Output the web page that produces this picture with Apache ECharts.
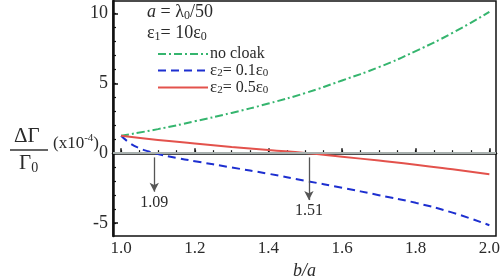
<!DOCTYPE html>
<html>
<head>
<meta charset="utf-8">
<script src="https://cdn.jsdelivr.net/npm/echarts@6/dist/echarts.min.js"></script>
<style>html,body{margin:0;padding:0;background:#fff}#c{width:501px;height:277px}</style>
</head>
<body>
<div id="c"></div>
<script>
// ---- data ----
const bGrid = [1.0, 1.1, 1.2, 1.3, 1.4, 1.5, 1.6, 1.7, 1.8, 1.9, 2.0];
const noCloak = [1.25, 1.72, 2.28, 2.88, 3.55, 4.3, 5.2, 6.15, 7.3, 8.6, 10.1];
const eps05 = [1.25, 0.95, 0.7, 0.45, 0.22, 0.02, -0.25, -0.53, -0.82, -1.15, -1.5];
const bBlue = [1.0, 1.025, 1.05, 1.075, 1.1, 1.15, 1.2, 1.3, 1.4, 1.5, 1.6, 1.7, 1.8, 1.9, 2.0];
const eps01 = [1.25, 0.7, 0.35, 0.12, -0.06, -0.33, -0.57, -1.02, -1.47, -1.97, -2.47, -3.0, -3.55, -4.25, -5.15];
const seriesNames = ['no cloak', 'eps2=0.1eps0', 'eps2=0.5eps0'];
const legendLabels = ['{t|no cloak}', '{e|ε}{s|2}{t|= 0.1}{e|ε}{s|0}', '{e|ε}{s|2}{t|= 0.5}{e|ε}{s|0}'];
const xTicks = [1.0, 1.2, 1.4, 1.6, 1.8, 2.0];
const xMinorTicks = [1.0,1.05,1.1,1.15,1.2,1.25,1.3,1.35,1.4,1.45,1.5,1.55,1.6,1.65,1.7,1.75,1.8,1.85,1.9,1.95,2.0];
const yTicks = [-5, 0, 5, 10];
const yMinorTicks = [-5,-4,-3,-2,-1,0,1,2,3,4,5,6,7,8,9,10];
const arrowX = [1.09, 1.51];
const arrowFromY = [-0.3, -0.3];
const arrowToY = [-2.75, -3.35];
const arrowLabels = ['1.09', '1.51'];

const SERIF = '"Liberation Serif", "DejaVu Serif", serif';
const TXT = '#2a2a2a';

function pairs(xs, ys) { return xs.map((x, i) => [x, ys[i]]); }

const chart = echarts.init(document.getElementById('c'), null, {renderer: 'canvas'});

const option = {
  animation: false,
  backgroundColor: '#fff',
  grid: {left: 113, right: 5, top: 1, bottom: 41, show: true, borderColor: '#111', borderWidth: 1.5,
         containLabel: false, outerBoundsMode: 'none'},
  xAxis: [{
    type: 'value', min: 0.978, max: 2.018, position: 'bottom',
    axisLine: {show: true, lineStyle: {color: '#111', width: 2.5}},
    axisTick: {show: true, inside: true, length: 5, customValues: xTicks, lineStyle: {color: '#111', width: 1.5}},
    axisLabel: {customValues: xTicks, formatter: v => Number(v).toFixed(1), fontFamily: SERIF, fontSize: 17, color: TXT, margin: 4},
    splitLine: {show: false},
    name: 'b/a', nameLocation: 'middle', nameGap: 19,
    nameTextStyle: {fontFamily: SERIF, fontSize: 18, fontStyle: 'italic', color: TXT, verticalAlign: 'top'}
  }, {
    type: 'value', min: 0.978, max: 2.018, position: 'bottom',
    axisLine: {show: false},
    axisTick: {show: true, inside: true, length: 3, customValues: xMinorTicks, lineStyle: {color: '#111', width: 1.2}},
    axisLabel: {show: false}, splitLine: {show: false}
  }],
  yAxis: [{
    type: 'value', min: -5.92, max: 10.88, position: 'left',
    axisLine: {show: true, lineStyle: {color: '#111', width: 2.5}},
    axisTick: {show: true, inside: true, length: 5, customValues: yTicks, lineStyle: {color: '#111', width: 1.5}},
    axisLabel: {customValues: yTicks, formatter: v => String(Math.round(v)), fontFamily: SERIF, fontSize: 18, color: TXT, margin: 5},
    splitLine: {show: false}
  }, {
    type: 'value', min: -5.92, max: 10.88, position: 'left',
    axisLine: {show: false},
    axisTick: {show: true, inside: true, length: 3, customValues: yMinorTicks, lineStyle: {color: '#111', width: 1.2}},
    axisLabel: {show: false}, splitLine: {show: false}
  }],
  legend: {
    left: 152, top: 41, orient: 'vertical', itemWidth: 50, itemHeight: 10, itemGap: 0,
    data: seriesNames,
    itemStyle: {opacity: 0},
    formatter: name => legendLabels[seriesNames.indexOf(name)],
    textStyle: {fontFamily: SERIF, fontSize: 16, color: TXT, padding: [0, 0, 0, -3],
      rich: {t: {fontFamily: SERIF, fontSize: 16, color: TXT},
             e: {fontFamily: SERIF, fontSize: 17, color: TXT},
             s: {fontFamily: SERIF, fontSize: 11, color: TXT, verticalAlign: 'bottom', padding: [6, 0, 0, 0]}}}
  },
  series: [{
    name: seriesNames[0], type: 'line', data: pairs(bGrid, noCloak), smooth: true, symbol: 'none',
    lineStyle: {color: '#35b56e', width: 2, type: [8, 3, 2, 3]}, itemStyle: {color: '#35b56e'}, z: 3
  }, {
    name: seriesNames[1], type: 'line', data: pairs(bBlue, eps01), smooth: true, symbol: 'none',
    lineStyle: {color: '#1d2fd0', width: 2, type: [8, 5]}, itemStyle: {color: '#1d2fd0'}, z: 3
  }, {
    name: seriesNames[2], type: 'line', data: pairs(bGrid, eps05), smooth: true, symbol: 'none',
    lineStyle: {color: '#e3524c', width: 2, type: 'solid'}, itemStyle: {color: '#e3524c'}, z: 3,
    markLine: {
      silent: true, animation: false, symbol: ['none', 'none'],
      lineStyle: {color: '#a8b0ae', width: 2, type: 'solid'}, label: {show: false},
      data: [{yAxis: 0}]
    }
  }, {
    name: 'arrows', type: 'line', data: [], symbol: 'none',
    markLine: {
      silent: true, animation: false, symbol: ['none', 'arrow'], symbolSize: [7, 9],
      lineStyle: {color: '#555', width: 1.3, type: 'solid'},
      label: {show: true, position: 'end', distance: 3, fontFamily: SERIF, fontSize: 16, color: TXT,
              formatter: p => p.data.labelText},
      data: arrowX.map((x, i) => [
        {coord: [x, arrowFromY[i]], labelText: arrowLabels[i]},
        {coord: [x, arrowToY[i]], labelText: arrowLabels[i]}
      ])
    }
  }],
  graphic: [
    {type: 'text', left: 147, top: 3, style: {text: '{i|a} = λ{s|0}/50', fill: TXT, font: '18px ' + SERIF,
      rich: {i: {fontFamily: SERIF, fontSize: 18, fontStyle: 'italic', fill: TXT},
             s: {fontFamily: SERIF, fontSize: 12, fill: TXT, padding: [8, 0, 0, 0]}}}},
    {type: 'text', left: 147, top: 24, style: {text: 'ε{s|1}= 10ε{s|0}', fill: TXT, font: '18px ' + SERIF,
      rich: {s: {fontFamily: SERIF, fontSize: 12, fill: TXT, padding: [8, 0, 0, 0]}}}},
    {type: 'text', left: 14, top: 126, style: {text: 'ΔΓ', fill: TXT, font: '21px ' + SERIF}},
    {type: 'line', shape: {x1: 10, y1: 150, x2: 48, y2: 150}, style: {stroke: '#333', lineWidth: 1.3}},
    {type: 'text', left: 19, top: 153, style: {text: 'Γ{s|0}', fill: TXT, font: '21px ' + SERIF,
      rich: {s: {fontFamily: SERIF, fontSize: 14, fill: TXT, padding: [10, 0, 0, 0]}}}},
    {type: 'text', left: 53, top: 133, style: {text: '(x10{p|-4})', fill: TXT, font: '17px ' + SERIF,
      rich: {p: {fontFamily: SERIF, fontSize: 11, fill: TXT, padding: [0, 0, 10, 0]}}}}
  ]
};
chart.setOption(option);
</script>
</body>
</html>
